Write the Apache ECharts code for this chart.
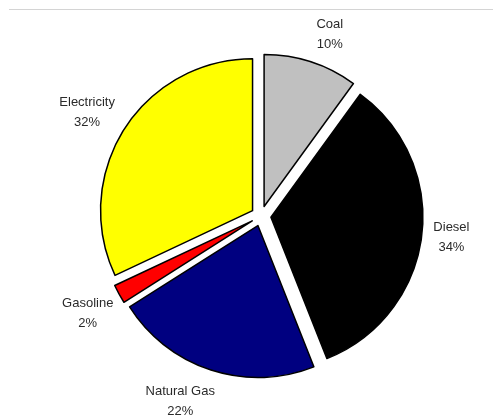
<!DOCTYPE html>
<html>
<head>
<meta charset="utf-8">
<script src="https://cdn.jsdelivr.net/npm/echarts@6/dist/echarts.min.js"></script>
<style>
  html, body { margin: 0; padding: 0; background: #ffffff; }
  #chart { width: 493px; height: 416px; }
</style>
</head>
<body>
<div id="chart"></div>
<script>
// Energy source shares, clockwise from 12 o'clock
const categories = ['Coal', 'Diesel', 'Natural Gas', 'Gasoline', 'Electricity'];
const shares = [10, 34, 22, 2, 32];
const sliceColors = ['#c0c0c0', '#000000', '#000080', '#ff0000', '#ffff00'];

const center = [261, 216];

// Small per-label nudges away from the ring's mid-radius point
const labelNudge = {
  'Coal': [7, 9],
  'Diesel': [-8, -4],
  'Natural Gas': [-19, -5],
  'Gasoline': [2, 1],
  'Electricity': [-5, 4]
};

const sliceData = categories.map((name, i) => ({
  name: name,
  value: shares[i],
  selected: true,
  itemStyle: { color: sliceColors[i] }
}));

// Label ring: transparent sectors whose inner labels sit beyond the pie
const labelData = categories.map((name, i) => ({
  name: name,
  value: shares[i],
  label: { offset: labelNudge[name] }
}));

const chart = echarts.init(document.getElementById('chart'), null, { renderer: 'canvas' });
chart.setOption({
  backgroundColor: '#ffffff',
  animation: false,
  graphic: [{
    type: 'line',
    shape: { x1: 9, y1: 9.5, x2: 493, y2: 9.5 },
    style: { stroke: '#d4d4d4', lineWidth: 1 },
    silent: true
  }],
  series: [
    {
      type: 'pie',
      center: center,
      radius: [0, 152],
      startAngle: 90,
      clockwise: true,
      selectedMode: 'multiple',
      selectedOffset: 10,
      silent: true,
      label: { show: false },
      labelLine: { show: false },
      itemStyle: { borderColor: '#000000', borderWidth: 1.5 },
      emphasis: { disabled: true },
      data: sliceData
    },
    {
      type: 'pie',
      center: center,
      radius: [176, 218],
      startAngle: 90,
      clockwise: true,
      silent: true,
      itemStyle: { color: 'rgba(0,0,0,0)', borderWidth: 0 },
      emphasis: { disabled: true },
      labelLine: { show: false },
      label: {
        show: true,
        position: 'inside',
        formatter: '{b}\n{d}%',
        fontFamily: 'Liberation Sans, Arial, sans-serif',
        fontSize: 13,
        lineHeight: 20,
        color: '#2a2a2a',
        align: 'center'
      },
      data: labelData
    }
  ]
});
</script>
</body>
</html>
